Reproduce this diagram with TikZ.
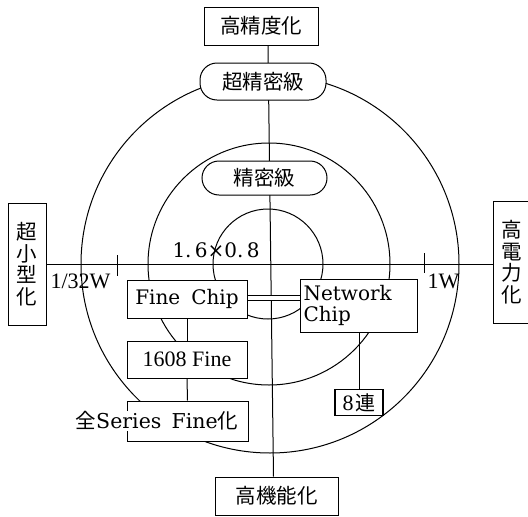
\documentclass[tikz,border=0pt]{standalone}
\usepackage{fontspec}
\setmainfont{DejaVu Serif}
\newfontfamily\jp{Noto Sans CJK JP}
\newfontfamily\tms{Liberation Serif}
\begin{document}
\begin{tikzpicture}[x=1pt,y=-1pt,line width=1pt,
  bx/.style={draw,fill=white,inner sep=0pt,align=center},
  pill/.style={bx,rounded corners=17pt},
  jpt/.style={font=\jp\fontsize{20.5}{22}\selectfont},
  ser/.style={font=\fontsize{20}{21}\selectfont},
  tmsf/.style={font=\tms\fontsize{22}{23}\selectfont},
  vtext/.style={bx,font=\jp\fontsize{20.5}{21.5}\selectfont,minimum width=38pt,minimum height=122pt}]
\useasboundingbox (0,0) rectangle (528,517);
\begin{scope}
\clip (0,0) rectangle (528,517);
% circles
\draw (270,264) circle (189);
\draw (269,264) circle (121);
\draw (268,264) circle (55);
% nodes
\node[bx,jpt,minimum width=114pt,minimum height=38pt] (hp) at (261,26) {高精度化};
\node[bx,jpt,minimum width=123pt,minimum height=38pt] (hk) at (276.5,496) {高機能化};
\node[vtext] (lft) at (27,264) {超\\小\\型\\化};
\node[vtext] (rgt) at (512,262) {高\\電\\力\\化};
% axes
\draw ([xshift=7pt]hp.south) -- ([xshift=-3pt]hk.north);
\draw (lft.east) -- (lft.east -| rgt.west);
\node[pill,jpt,minimum width=126pt,minimum height=37pt] (cs) at (263,81.5) {超精密級};
\node[pill,jpt,minimum width=125pt,minimum height=34pt] (sm) at (264.5,178) {精密級};
% ticks
\coordinate (t1a) at (117,255); \coordinate (t1b) at (117,276);
\coordinate (t2a) at (424,253); \coordinate (t2b) at (424,273);
\draw (t1a) -- (t1b);
\draw (t2a) -- (t2b);
\node[tmsf,anchor=base east,inner sep=0pt] (l32) at (111,288) {1/32W};
\node[tmsf,anchor=base west,inner sep=0pt] (l1w) at (427,288) {1W};
\node[ser,anchor=base west,inner sep=0pt] (sz) at (172,257) {1.\,6×0.\,8};
% chip boxes
\node[bx,ser,minimum width=120pt,minimum height=38pt] (fc) at (187,299) {Fine\hspace{0.55em}Chip};
\node[bx,ser,minimum width=117pt,minimum height=53pt,text width=110pt,inner xsep=3.5pt,align=left] (nc) at (358.5,305.5) {Network\\Chip};
\node[bx,tmsf,minimum width=120pt,minimum height=37pt] (f16) at (187,359.5) {1608 Fine};
\node[bx,minimum width=121pt,minimum height=40pt] (fs) at (187.5,421) {};
\node[fill=white,inner xsep=0pt,inner ysep=1pt,ser,font=\fontsize{20.5}{21}\selectfont] (fst) at (157,421) {{\jp 全}Series\hspace{0.5em}Fine{\jp 化}};
\node[bx,line width=1.6pt,minimum width=48pt,minimum height=26pt] (r8) at (359,402.5) {{\tms\fontsize{22}{22}\selectfont 8}\,{\jp\fontsize{20}{22}\selectfont 連}};
% connectors
\coordinate (dl) at (0,298);
\draw[double,double distance=4.5pt] (fc.east |- dl) -- (nc.west |- dl);
\draw (fc.south) -- (f16.north);
\draw (f16.south) -- (fs.north);
\draw (r8.north |- nc.south) -- (r8.north);
\end{scope}
\end{tikzpicture}
\end{document}
